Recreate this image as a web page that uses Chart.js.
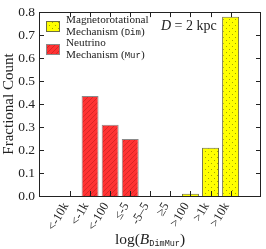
<!DOCTYPE html>
<html>
<head>
<meta charset="utf-8">
<style>
  html, body { margin: 0; padding: 0; background: #fff; }
</style>
</head>
<body>
<canvas id="myChart" width="266" height="249"></canvas>

<script src="https://cdn.jsdelivr.net/npm/chart.js"></script>

<script>
    const bins = ['<-10k', '<-1k', '<-100', '≤-5', '-5–5', '≥5', '>100', '>1k', '>10k'];
    const dimValues = [null, null, null, null, null, null, 0.01, 0.21, 0.78];
    const murValues = [null, 0.435, 0.31, 0.248, null, null, null, null, null];
    const yTicks = [0, 0.1, 0.2, 0.3, 0.4, 0.5, 0.6, 0.7, 0.8];

    const serif = '"Liberation Serif", "DejaVu Serif", serif';
    const mono = '"Liberation Mono", "DejaVu Sans Mono", monospace';

    // fill patterns: red hatch and yellow dots
    function hatchPattern() {
        const c = document.createElement('canvas');
        c.width = 5; c.height = 5;
        const g = c.getContext('2d');
        g.fillStyle = '#ff3333';
        g.fillRect(0, 0, 5, 5);
        g.strokeStyle = '#d92626';
        g.lineWidth = 1;
        g.beginPath();
        g.moveTo(0, 5); g.lineTo(5, 0);
        g.moveTo(-1, 1); g.lineTo(1, -1);
        g.moveTo(4, 6); g.lineTo(6, 4);
        g.stroke();
        return g.createPattern(c, 'repeat');
    }
    function dotPattern() {
        const c = document.createElement('canvas');
        c.width = 6; c.height = 6;
        const g = c.getContext('2d');
        g.fillStyle = '#ffff00';
        g.fillRect(0, 0, 6, 6);
        g.fillStyle = '#a3a300';
        g.fillRect(1, 1, 1, 1);
        g.fillRect(4, 4, 1, 1);
        return g.createPattern(c, 'repeat');
    }
    const redFill = hatchPattern();
    const yellowFill = dotPattern();

    function drawRuns(ctx, runs, x, y, align) {
        let total = 0;
        runs.forEach(r => { ctx.font = r.f; total += ctx.measureText(r.t).width; });
        let cx = align === 'center' ? x - total / 2 : x;
        ctx.textAlign = 'left';
        ctx.textBaseline = 'alphabetic';
        runs.forEach(r => {
            ctx.font = r.f;
            ctx.fillText(r.t, cx, y + (r.dy || 0));
            cx += ctx.measureText(r.t).width;
        });
    }

    const frame = {
        id: 'frame',
        afterDatasetsDraw(chart) {
            const ctx = chart.ctx;
            const a = chart.chartArea;
            const xs = chart.scales.x, ys = chart.scales.y;
            ctx.save();
            ctx.strokeStyle = '#222';
            ctx.lineWidth = 1;
            ctx.beginPath();
            ctx.rect(Math.round(a.left) + 0.5, Math.round(a.top) + 0.5,
                Math.round(a.right - a.left) - 1, Math.round(a.bottom - a.top));
            yTicks.forEach(v => {
                const y = Math.round(ys.getPixelForValue(v)) + 0.5;
                ctx.moveTo(a.left, y); ctx.lineTo(a.left + 5, y);
                ctx.moveTo(a.right, y); ctx.lineTo(a.right - 5, y);
            });
            bins.forEach((b, i) => {
                const x = Math.round(xs.getPixelForValue(i)) + 0.5;
                ctx.moveTo(x, a.bottom); ctx.lineTo(x, a.bottom - 5);
                ctx.moveTo(x, a.top); ctx.lineTo(x, a.top + 5);
            });
            ctx.stroke();
            ctx.restore();
        },
        afterDraw(chart) {
            const ctx = chart.ctx;
            const a = chart.chartArea;
            const ds = chart.data.datasets;
            ctx.save();
            // legend
            ctx.lineWidth = 1;
            ctx.strokeStyle = ds[0].borderColor;
            ctx.fillStyle = ds[0].backgroundColor;
            ctx.fillRect(46, 21, 13, 10);
            ctx.strokeRect(46.5, 21.5, 13, 10);
            ctx.strokeStyle = ds[1].borderColor;
            ctx.fillStyle = ds[1].backgroundColor;
            ctx.fillRect(46, 44, 13, 10);
            ctx.strokeRect(46.5, 44.5, 13, 10);

            ctx.fillStyle = '#222';
            const lf = '11.2px ' + serif, mf = '9px ' + mono;
            drawRuns(ctx, [{ t: 'Magnetorotational', f: lf }], 66, 23, 'left');
            drawRuns(ctx, [{ t: 'Mechanism (', f: lf }, { t: 'Dim', f: mf }, { t: ')', f: lf }], 66, 35, 'left');
            drawRuns(ctx, [{ t: 'Neutrino', f: lf }], 66, 45.5, 'left');
            drawRuns(ctx, [{ t: 'Mechanism (', f: lf }, { t: 'Mur', f: mf }, { t: ')', f: lf }], 66, 57.5, 'left');

            // annotation
            drawRuns(ctx, [{ t: 'D', f: 'italic 14px ' + serif }, { t: ' = 2 kpc', f: '14px ' + serif }], 161, 30, 'left');

            // x axis title
            const tf = '15.5px ' + serif;
            drawRuns(ctx, [
                { t: 'log(', f: tf },
                { t: 'B', f: 'italic 15.5px ' + serif },
                { t: 'DimMur', f: '8.5px ' + mono, dy: 2 },
                { t: ')', f: tf }
            ], (a.left + a.right) / 2, 244, 'center');
            ctx.restore();
        }
    };

    new Chart(document.getElementById('myChart'), {
        type: 'bar',
        data: {
            datasets: [{
                label: 'Magnetorotational Mechanism (Dim)',
                data: dimValues.map((v, i) => ({ x: i, y: v })),
                backgroundColor: yellowFill,
                borderColor: '#6e6e40',
                borderWidth: 1,
                grouped: false,
                categoryPercentage: 1,
                barPercentage: 0.845
            }, {
                label: 'Neutrino Mechanism (Mur)',
                data: murValues.map((v, i) => ({ x: i, y: v })),
                backgroundColor: redFill,
                borderColor: '#8a8a8a',
                borderWidth: 1,
                grouped: false,
                categoryPercentage: 1,
                barPercentage: 0.845
            }]
        },
        options: {
            responsive: false,
            animation: false,
            devicePixelRatio: 1,
            layout: { padding: { top: 7, right: 5, left: 0, bottom: 0 } },
            plugins: {
                legend: { display: false },
                tooltip: { enabled: false }
            },
            scales: {
                x: {
                    type: 'linear',
                    min: -0.93,
                    max: 8.9,
                    afterBuildTicks: s => { s.ticks = bins.map((b, i) => ({ value: i })); },
                    afterFit: s => { s.height = 53; },
                    grid: { display: false, drawTicks: false },
                    border: { display: false },
                    ticks: {
                        callback: v => bins[v],
                        minRotation: 60,
                        maxRotation: 60,
                        padding: 4,
                        labelOffset: -4,
                        color: '#222',
                        font: { family: serif, size: 12.5 }
                    }
                },
                y: {
                    min: 0,
                    max: 0.8,
                    afterBuildTicks: s => { s.ticks = yTicks.map(v => ({ value: v })); },
                    afterFit: s => { s.width = 39; },
                    grid: { display: false, drawTicks: false },
                    border: { display: false },
                    title: {
                        display: true,
                        text: 'Fractional Count',
                        color: '#222',
                        padding: 0,
                        font: { family: serif, size: 15 }
                    },
                    ticks: {
                        callback: v => v.toFixed(1),
                        padding: 4,
                        color: '#222',
                        font: { family: serif, size: 13.5 }
                    }
                }
            }
        },
        plugins: [frame]
    });
</script>
</body>
</html>
